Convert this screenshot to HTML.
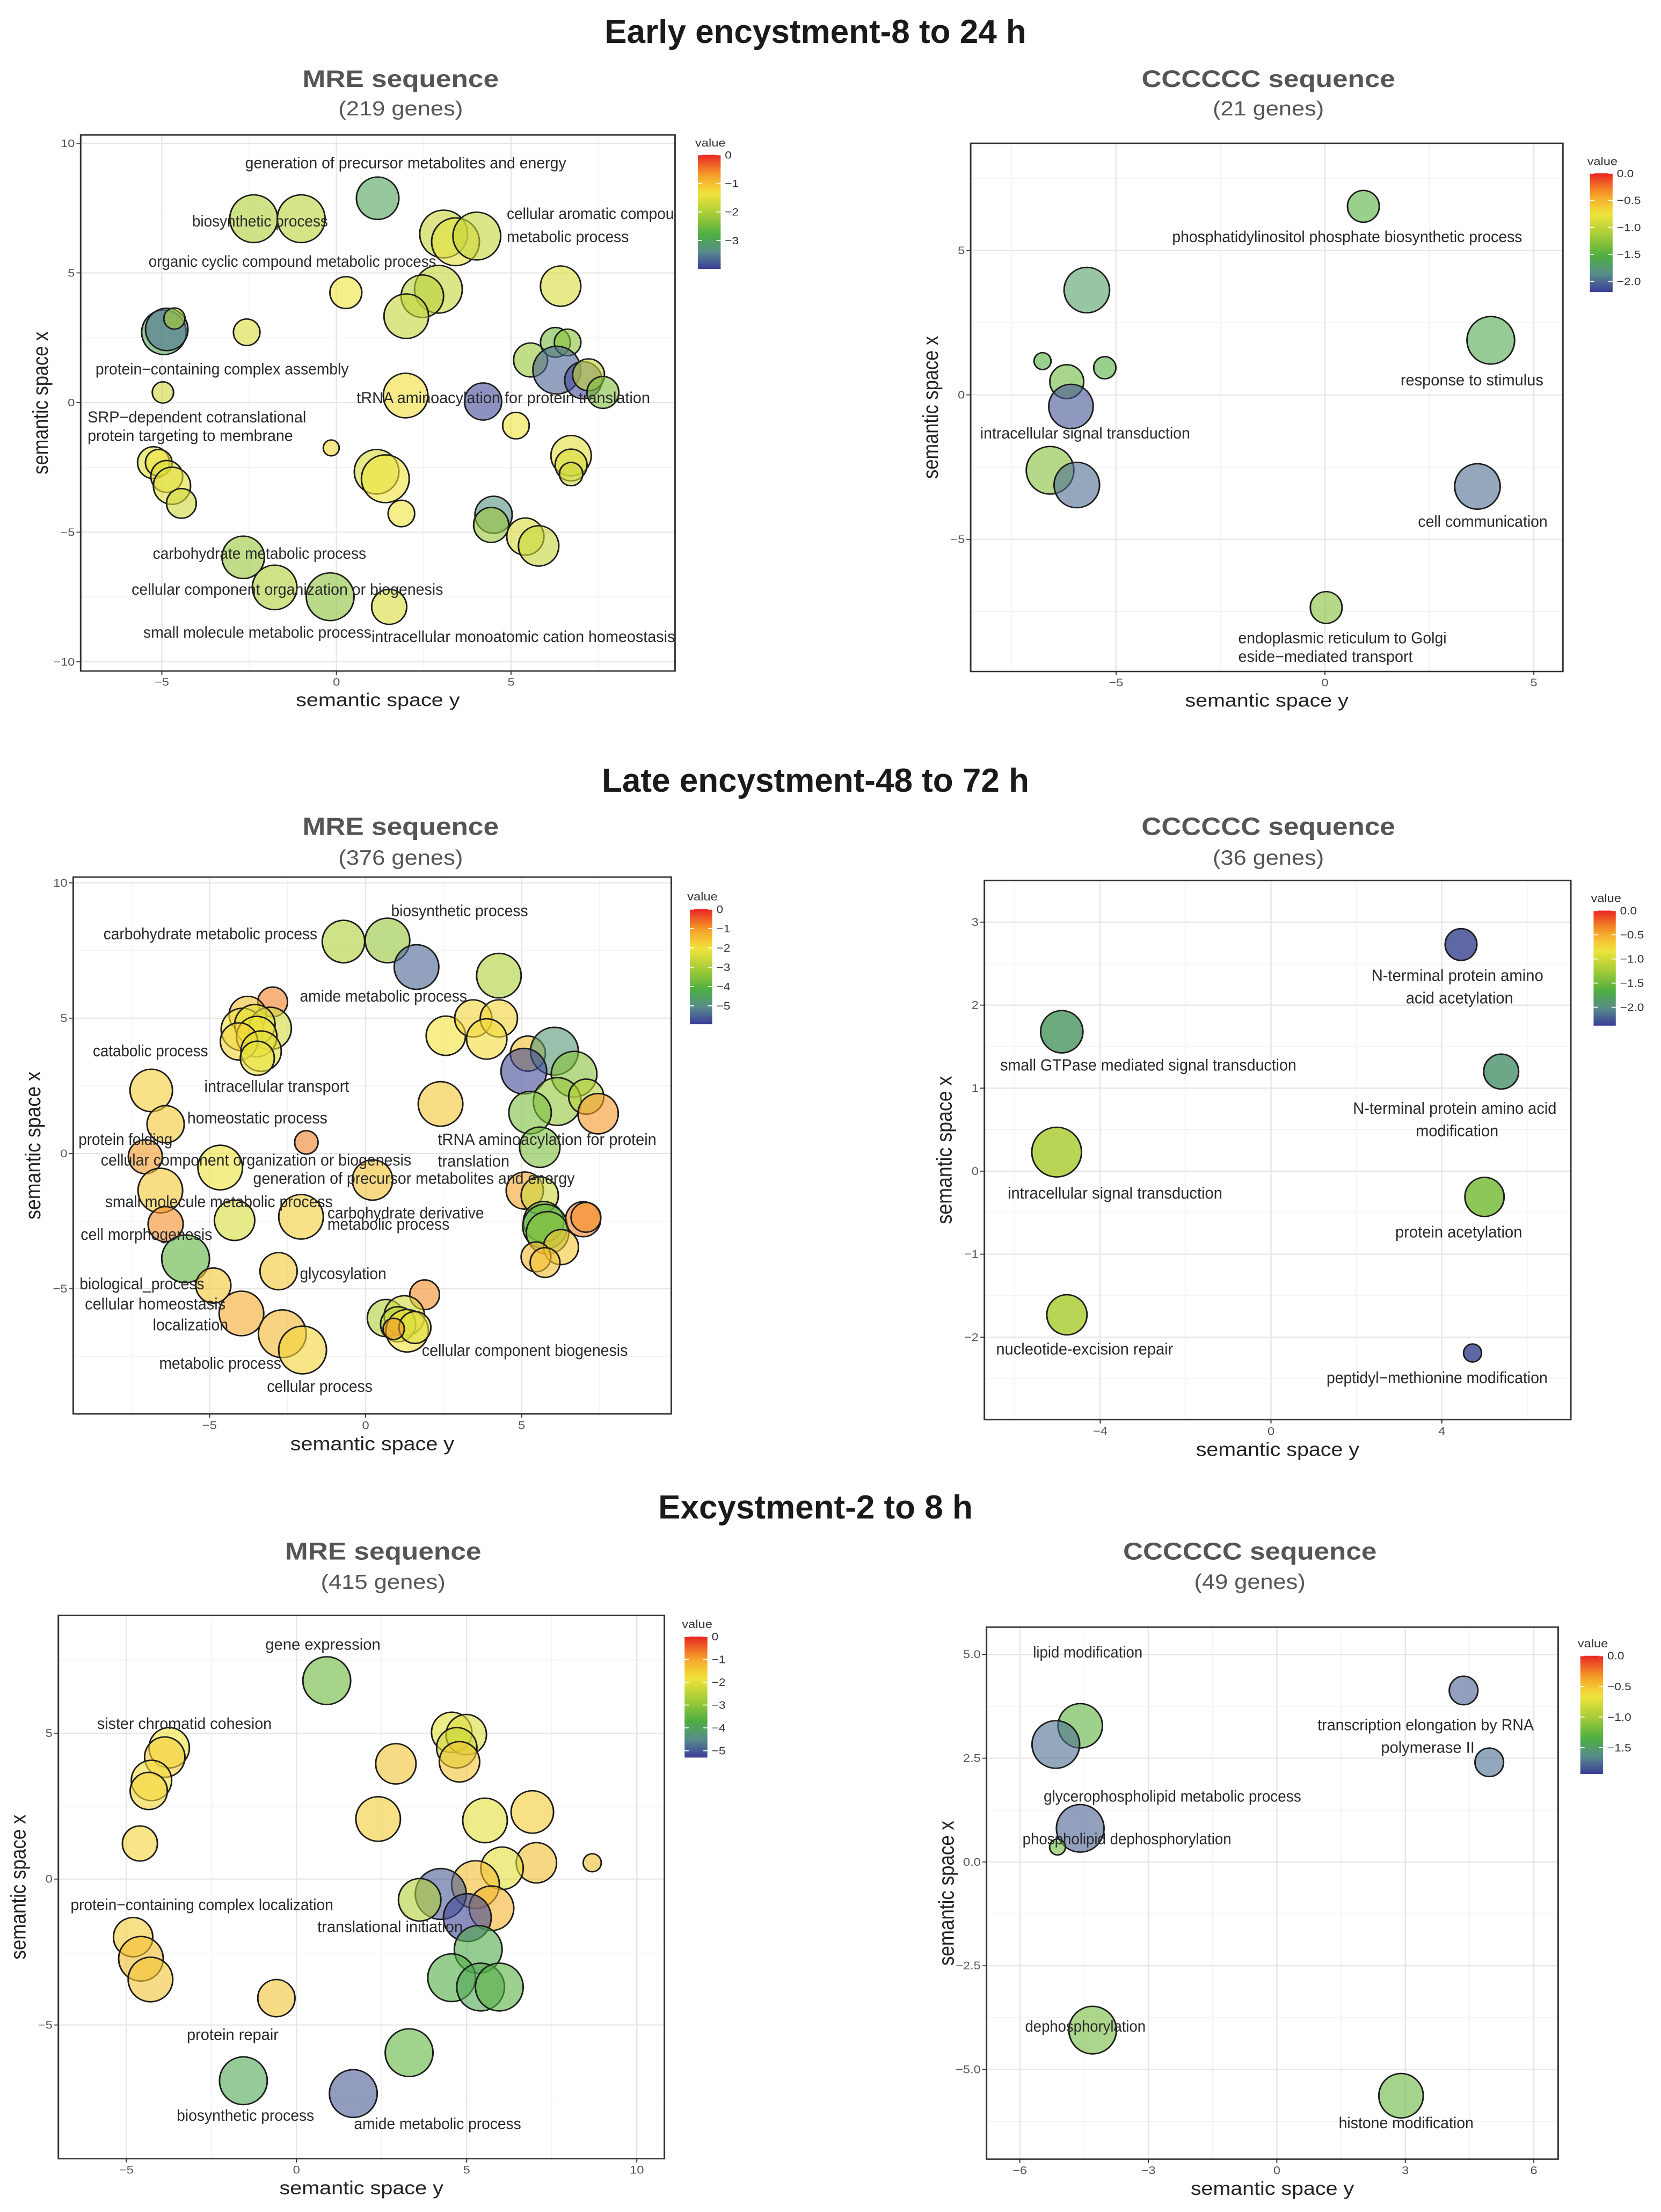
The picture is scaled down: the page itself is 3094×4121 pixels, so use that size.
<!DOCTYPE html>
<html><head><meta charset="utf-8">
<style>
html,body{margin:0;padding:0;background:#fff;}
svg{display:block;font-family:"Liberation Sans",sans-serif;}
</style></head>
<body>
<svg id="fig" xmlns="http://www.w3.org/2000/svg" width="3094" height="4121" viewBox="0 0 3094 4121">
<rect width="3094" height="4121" fill="#fff"/>
<text x="1519" y="80" font-size="62" font-weight="bold" text-anchor="middle" fill="#1a1a1a">Early encystment-8 to 24 h</text>
<text x="1519" y="1475" font-size="62" font-weight="bold" text-anchor="middle" fill="#1a1a1a">Late encystment-48 to 72 h</text>
<text x="1519" y="2829" font-size="62" font-weight="bold" text-anchor="middle" fill="#1a1a1a">Excystment-2 to 8 h</text>
</svg>
<script>
// ---------- Panel 1: Early MRE ----------
const p1X=[1.18,-2.37,-1.01,3.07,3.41,4.02,6.42,0.27,2.92,2.46,2.0,-4.94,-4.86,-4.64,-2.57,5.56,6.27,6.62,6.31,7.07,7.22,7.63,-4.97,1.98,4.2,5.14,-0.15,-5.24,-5.09,-4.86,-4.71,-4.44,1.15,1.4,1.86,6.72,6.72,6.72,4.5,4.43,5.41,5.79,-2.67,-1.77,-0.18,1.51];
const p1Y=[7.88,7.09,7.09,6.5,6.2,6.42,4.49,4.24,4.37,4.1,3.33,2.71,2.82,3.24,2.71,1.64,2.32,2.32,1.25,0.86,1.07,0.39,0.39,0.27,0.04,-0.89,-1.75,-2.32,-2.32,-2.85,-3.21,-3.89,-2.67,-2.94,-4.28,-2.05,-2.41,-2.76,-4.33,-4.72,-5.17,-5.53,-5.97,-7.13,-7.49,-7.88];
const p1Size=[4.0,4.5,4.5,4.5,4.5,4.5,3.8,3.0,4.5,4.0,4.2,4.2,4.0,2.0,2.5,3.2,2.8,2.5,4.5,3.5,3.0,3.0,2.0,4.2,3.5,2.5,1.5,3.0,2.5,3.0,3.5,2.8,4.2,4.5,2.5,3.8,3.0,2.2,3.5,3.3,3.5,3.8,4.0,4.2,4.5,3.3];
const p1Value=[-3.0,-2.0,-1.9,-1.8,-1.5,-1.8,-1.6,-1.4,-1.8,-1.9,-1.8,-3.0,-3.6,-2.1,-1.6,-2.2,-2.5,-2.3,-3.7,-3.9,-1.8,-2.4,-1.7,-1.3,-3.9,-1.4,-1.2,-1.5,-1.4,-1.6,-1.5,-1.7,-1.6,-1.4,-1.4,-1.5,-1.6,-1.7,-3.3,-2.2,-1.6,-1.8,-2.2,-2.0,-2.3,-1.6];
// ---------- Panel 2: Early CCCCCC ----------
const p2X=[0.92,-5.7,3.97,-6.76,-5.27,-6.18,-6.08,-6.58,-5.94,3.65,0.03];
const p2Y=[6.53,3.63,1.89,1.17,0.94,0.46,-0.4,-2.61,-3.12,-3.17,-7.36];
const p2Size=[3.0,4.3,4.5,1.6,2.1,3.2,4.2,4.5,4.3,4.3,3.0];
const p2Value=[-1.5,-1.7,-1.6,-1.5,-1.5,-1.4,-2.1,-1.3,-2.0,-2.0,-1.3];
// ---------- Panel 3: Late MRE ----------
const p3X=[-0.71,0.70,1.63,4.27,-2.98,-3.78,-3.95,-3.06,-3.55,-3.49,-4.06,-3.35,-3.47,2.57,3.45,4.27,3.88,5.20,6.05,5.07,6.68,6.14,5.27,7.07,7.45,2.40,5.58,-6.87,-6.41,-7.06,-1.90,-4.66,0.22,-6.58,5.10,5.58,5.70,5.75,5.83,6.97,7.06,6.26,5.46,5.75,-4.20,-2.07,-6.41,-5.77,-4.88,-2.79,-3.98,-2.67,-2.02,1.89,0.65,1.24,1.04,1.33,1.58,0.90];
const p3Y=[7.83,7.87,6.89,6.57,5.60,5.12,4.58,4.62,4.76,4.32,4.14,3.78,3.52,4.35,4.99,4.99,4.23,3.69,3.78,3.04,2.93,1.92,1.51,2.10,1.47,1.83,0.23,2.33,1.08,-0.12,0.41,-0.52,-0.98,-1.37,-1.37,-1.55,-2.52,-2.70,-2.93,-2.43,-2.36,-3.46,-3.82,-4.03,-2.47,-2.34,-2.61,-3.89,-4.88,-4.35,-5.91,-6.66,-7.26,-5.22,-6.08,-6.00,-6.31,-6.55,-6.43,-6.48];
const p3Size=[4.0,4.2,4.2,4.2,2.8,3.5,4.0,4.0,3.8,3.8,3.5,3.8,3.2,3.7,3.5,3.5,3.8,3.3,4.5,4.3,4.3,4.5,4.0,3.3,3.8,4.2,3.8,4.0,3.5,3.2,2.2,4.2,3.8,4.2,3.5,3.5,3.8,4.2,4.0,3.3,2.8,3.3,2.8,2.8,3.8,4.2,3.3,4.5,3.3,3.5,4.2,4.5,4.5,2.8,3.5,3.8,3.3,4.0,3.0,2.0];
const p3Value=[-3.0,-3.3,-5.5,-3.0,-0.8,-1.5,-2.0,-2.5,-2.2,-2.0,-1.8,-2.3,-2.1,-2.0,-1.8,-1.8,-1.9,-1.5,-4.8,-5.8,-3.5,-3.3,-3.6,-2.8,-1.0,-1.6,-3.6,-1.7,-1.6,-1.0,-0.8,-2.1,-1.5,-1.6,-1.1,-2.6,-3.8,-4.0,-3.5,-0.8,-0.9,-1.6,-1.4,-1.5,-2.4,-1.7,-0.9,-4.0,-1.6,-1.6,-1.2,-1.4,-1.8,-0.9,-3.0,-2.5,-2.8,-2.0,-2.3,-1.0];
// ---------- Panel 4: Late CCCCCC ----------
const p4X=[4.45,-4.9,5.39,-5.02,5.0,-4.78,4.72];
const p4Y=[2.73,1.68,1.2,0.23,-0.31,-1.73,-2.19];
const p4Size=[3.0,4.0,3.3,4.7,3.7,3.8,1.7];
const p4Value=[-2.3,-1.85,-1.9,-1.2,-1.45,-1.2,-2.3];
// ---------- Panel 5: Excystment MRE ----------
const p5X=[0.89,-3.74,-3.87,-4.26,-4.34,-4.60,4.56,4.99,4.71,4.79,2.92,2.40,5.54,6.93,7.05,8.69,6.04,5.26,5.73,4.24,3.62,5.02,5.34,4.56,5.41,5.96,-4.80,-4.57,-4.29,-0.59,3.31,-1.56,1.67];
const p5Y=[6.80,4.50,4.18,3.38,3.02,1.22,5.03,4.95,4.50,4.02,3.95,2.06,2.01,2.30,0.56,0.56,0.37,-0.19,-1.00,-0.51,-0.71,-1.32,-2.41,-3.38,-3.70,-3.70,-1.99,-2.73,-3.44,-4.08,-5.95,-6.91,-7.35];
const p5Size=[4.5,3.8,3.8,3.8,3.5,3.3,3.8,3.8,3.8,3.8,3.8,4.2,4.2,4.0,3.8,1.7,4.0,4.5,4.2,4.8,4.0,4.5,4.5,4.5,4.5,4.5,3.7,4.2,4.2,3.5,4.5,4.5,4.5];
const p5Value=[-3.4,-1.8,-1.5,-1.7,-1.6,-1.6,-2.0,-2.1,-2.3,-1.4,-1.4,-1.5,-2.0,-1.5,-1.3,-1.3,-2.0,-1.3,-1.2,-5.0,-2.6,-5.2,-3.8,-3.7,-3.9,-3.6,-1.5,-1.3,-1.4,-1.4,-3.5,-3.9,-5.0];
// ---------- Panel 6: Excystment CCCCCC ----------
const p6X=[4.36,-4.59,-5.16,4.96,-4.59,-5.12,-4.30,2.90];
const p6Y=[4.13,3.28,2.83,2.40,0.81,0.36,-4.05,-5.63];
const p6Size=[2.7,4.2,4.5,2.7,4.5,1.5,4.5,4.2];
const p6Value=[-1.8,-1.3,-1.75,-1.75,-1.8,-1.2,-1.2,-1.25];

// label annotations: [text, left px, right px, centre-y px] (layout, panel-local coordinates)
const p1Labels=[["generation of precursor metabolites and energy",462,1067,352],["biosynthetic process",362,618,478],["cellular aromatic compou",955,1270,462],["metabolic process",955,1185,512],["organic cyclic compound metabolic process",280,822,565],["protein−containing complex assembly",180,657,798],["tRNA aminoacylation for protein translation",672,1225,860],["SRP−dependent cotranslational",165,577,902],["protein targeting to membrane",165,552,942],["carbohydrate metabolic process",288,690,1197],["cellular component organization or biogenesis",248,835,1275],["small molecule metabolic process",270,700,1368],["intracellular monoatomic cation homeostasis",700,1272,1377]];
const p2Labels=[["phosphatidylinositol phosphate biosynthetic process",643,1305,512],["response to stimulus",1075,1345,822],["intracellular signal transduction",280,677,937],["cell communication",1108,1353,1128],["endoplasmic reticulum to Golgi",768,1162,1380],["eside−mediated transport",768,1098,1420]];
const p3Labels=[["biosynthetic process",737,995,388],["carbohydrate metabolic process",195,598,436],["amide metabolic process",565,880,566],["catabolic process",175,392,680],["intracellular transport",385,658,754],["homeostatic process",353,617,820],["protein folding",148,325,865],["tRNA aminoacylation for protein",825,1237,865],["cellular component organization or biogenesis",190,775,908],["translation",825,960,910],["generation of precursor metabolites and energy",477,1083,946],["small molecule metabolic process",198,627,995],["carbohydrate derivative",617,912,1018],["metabolic process",617,847,1042],["cell morphogenesis",152,400,1063],["glycosylation",565,728,1145],["biological_process",150,385,1166],["cellular homeostasis",160,425,1208],["localization",288,430,1252],["cellular component biogenesis",795,1183,1305],["metabolic process",300,530,1332],["cellular process",503,702,1380]];
const p4Labels=[["N-terminal protein amino",1020,1345,523],["acid acetylation",1085,1288,570],["small GTPase mediated signal transduction",318,878,710],["N-terminal protein amino acid",985,1370,800],["modification",1104,1260,847],["intracellular signal transduction",332,738,977],["protein acetylation",1065,1305,1058],["nucleotide-excision repair",310,645,1302],["peptidyl−methionine modification",935,1353,1362]];
const p5Labels=[["gene expression",500,717,358],["sister chromatid cohesion",183,512,527],["protein−containing complex localization",133,628,913],["translational initiation",598,872,960],["protein repair",352,525,1190],["biosynthetic process",333,592,1362],["amide metabolic process",667,982,1380]];
const p6Labels=[["lipid modification",380,587,375],["transcription elongation by RNA",918,1327,530],["polymerase II",1038,1215,578],["glycerophospholipid metabolic process",400,887,682],["phospholipid dephosphorylation",360,755,773],["dephosphorylation",365,593,1172],["histone modification",958,1213,1378]];

const NS="http://www.w3.org/2000/svg";
const svg=document.getElementById('fig');
function mk(tag,attrs,parent){const e=document.createElementNS(NS,tag);for(const k in attrs)e.setAttribute(k,attrs[k]);parent.appendChild(e);return e;}
const stops=[[0,[232,38,36]],[0.18,[245,160,40]],[0.34,[242,228,60]],[0.52,[166,204,55]],[0.7,[78,174,66]],[0.85,[88,140,140]],[1,[60,60,152]]];
function colorAt(t){t=Math.max(0,Math.min(1,t));for(let i=1;i<stops.length;i++){if(t<=stops[i][0]){const a=stops[i-1],b=stops[i];const f=(t-a[0])/(b[0]-a[0]);const c=a[1].map((v,j)=>Math.round(v+(b[1][j]-v)*f));return `rgb(${c[0]},${c[1]},${c[2]})`;}}return 'rgb(60,60,152)';}
function fmt(v,dec){let s=dec?v.toFixed(1):String(v);return s.replace('-','−');}

const panels=[
 {id:'p1',ox:0,oy:0,sx:0.9885,sy:0.861,title:'MRE sequence',genes:'(219 genes)',tc:755,ty:170,box:[152,292,1272,1452],xa:[-5,305,5,963],ya:[10,310,-10,1432],xt:[-5,0,5],yt:[-10,-5,0,5,10],xm:[-7.5,-2.5,2.5,7.5],ym:[-7.5,-2.5,2.5,7.5],leg:[1315,335,1358,582],lt:[0,-1,-2,-3],vmin:-4.0,dec:false,X:p1X,Y:p1Y,S:p1Size,V:p1Value,L:p1Labels,op:0.6},
 {id:'p2',ox:1550,oy:0,sx:0.985,sy:0.861,title:'CCCCCC sequence',genes:'(21 genes)',tc:825,ty:170,box:[262,310,1382,1453],xa:[-5,537,5,1327],ya:[5,542,-5,1167],xt:[-5,0,5],yt:[-5,0,5],xm:[-7.5,-2.5,2.5,7.5],ym:[-7.5,-2.5,2.5,7.5],leg:[1433,375,1476,632],lt:[0,-0.5,-1,-1.5,-2],vmin:-2.2,dec:true,X:p2X,Y:p2Y,S:p2Size,V:p2Value,L:p2Labels,op:0.6},
 {id:'p3',ox:0,oy:1350,sx:0.9885,sy:0.893,title:'MRE sequence',genes:'(376 genes)',tc:755,ty:212,box:[138,318,1265,1438],xa:[-5,395,5,983],ya:[10,330,-5,1177],xt:[-5,0,5],yt:[-5,0,5,10],xm:[-7.5,-2.5,2.5,7.5],ym:[-7.5,-2.5,2.5,7.5],leg:[1300,385,1342,625],lt:[0,-1,-2,-3,-4,-5],vmin:-5.95,dec:false,X:p3X,Y:p3Y,S:p3Size,V:p3Value,L:p3Labels,op:0.6},
 {id:'p4',ox:1550,oy:1350,sx:0.985,sy:0.893,title:'CCCCCC sequence',genes:'(36 genes)',tc:825,ty:212,box:[288,325,1397,1450],xa:[-4,507,4,1153],ya:[3,412,-2,1278],xt:[-4,0,4],yt:[-2,-1,0,1,2,3],xm:[-6,-2,2,6],ym:[-2.5,-1.5,-0.5,0.5,1.5,2.5],leg:[1440,388,1482,628],lt:[0,-0.5,-1,-1.5,-2],vmin:-2.38,dec:true,X:p4X,Y:p4Y,S:p4Size,V:p4Value,L:p4Labels,op:0.85},
 {id:'p5',ox:0,oy:2750,sx:0.9885,sy:0.874,title:'MRE sequence',genes:'(415 genes)',tc:722,ty:160,box:[110,297,1252,1455],xa:[-5,238,10,1200],ya:[5,548,-5,1170],xt:[-5,0,5,10],yt:[-5,0,5],xm:[-7.5,-2.5,2.5,7.5],ym:[-7.5,-2.5,2.5,7.5],leg:[1290,342,1333,600],lt:[0,-1,-2,-3,-4,-5],vmin:-5.3,dec:false,X:p5X,Y:p5Y,S:p5Size,V:p5Value,L:p5Labels,op:0.6},
 {id:'p6',ox:1550,oy:2750,sx:0.985,sy:0.874,title:'CCCCCC sequence',genes:'(49 genes)',tc:790,ty:160,box:[292,322,1373,1456],xa:[-6,355,6,1327],ya:[5,380,-5,1265],xt:[-6,-3,0,3,6],yt:[-5,-2.5,0,2.5,5],ytdec:true,xm:[-4.5,-1.5,1.5,4.5],ym:[-6.25,-3.75,-1.25,1.25,3.75],leg:[1415,383,1458,635],lt:[0,-0.5,-1,-1.5],vmin:-1.93,dec:true,X:p6X,Y:p6Y,S:p6Size,V:p6Value,L:p6Labels,op:0.6}
];

panels.forEach(p=>{
 const g=mk('g',{transform:`translate(${p.ox},${p.oy}) scale(${p.sx},${p.sy})`},svg);
 
 
 const [x0,y0,x1,y1]=p.box;
 const xs=v=>p.xa[1]+(v-p.xa[0])*(p.xa[3]-p.xa[1])/(p.xa[2]-p.xa[0]);
 const ys=v=>p.ya[1]+(v-p.ya[0])*(p.ya[3]-p.ya[1])/(p.ya[2]-p.ya[0]);
 const t1=mk('text',{x:p.tc,y:p.ty+18,'font-size':52,'font-weight':'bold','text-anchor':'middle',fill:'#555'},g);t1.textContent=p.title;
 
 
 const t2=mk('text',{x:p.tc,y:p.ty+80,'font-size':44,'text-anchor':'middle',fill:'#555'},g);t2.textContent=p.genes;
 
 
 const defs=mk('clipPath',{id:'clip-'+p.id},g);mk('rect',{x:x0,y:y0,width:x1-x0,height:y1-y0},defs);
 const grid=mk('g',{'clip-path':`url(#clip-${p.id})`},g);
 
 
 p.xm.forEach(v=>mk('line',{x1:xs(v),x2:xs(v),y1:y0,y2:y1,stroke:'#f2f2f2','stroke-width':1.5},grid));
 p.ym.forEach(v=>mk('line',{x1:x0,x2:x1,y1:ys(v),y2:ys(v),stroke:'#f2f2f2','stroke-width':1.5},grid));
 p.xt.forEach(v=>mk('line',{x1:xs(v),x2:xs(v),y1:y0,y2:y1,stroke:'#e6e6e6','stroke-width':2.5},grid));
 p.yt.forEach(v=>mk('line',{x1:x0,x2:x1,y1:ys(v),y2:ys(v),stroke:'#e6e6e6','stroke-width':2.5},grid));
 const marks=mk('g',{'clip-path':`url(#clip-${p.id})`},g);
 const asp=p.sx/p.sy;
 p.X.forEach((xv,i)=>{
  const c=mk('ellipse',{cx:xs(xv),cy:ys(p.Y[i]),rx:p.S[i]*10,ry:p.S[i]*10*asp,fill:colorAt(p.V[i]/p.vmin),'fill-opacity':p.op,stroke:'#1c1c1c','stroke-width':3},marks);
  
  
 });
 p.L.forEach(l=>{
  const t=mk('text',{x:l[1],y:l[3]+12,'font-size':34,fill:'#2a2a2a',textLength:l[2]-l[1],lengthAdjust:'spacingAndGlyphs'},g);
  t.textContent=l[0];
  
  
 });
 const fr=mk('rect',{x:x0,y:y0,width:x1-x0,height:y1-y0,fill:'none',stroke:'#333','stroke-width':3},g);
 
 
 p.xt.forEach(v=>{mk('line',{x1:xs(v),x2:xs(v),y1:y1,y2:y1+8,stroke:'#333','stroke-width':2},g);
  const t=mk('text',{x:xs(v),y:y1+32,'font-size':24,'text-anchor':'middle',fill:'#555'},g);t.textContent=fmt(v,false);
  
  });
 p.yt.forEach(v=>{mk('line',{x1:x0-8,x2:x0,y1:ys(v),y2:ys(v),stroke:'#333','stroke-width':2},g);
  const t=mk('text',{x:x0-11,y:ys(v)+8,'font-size':24,'text-anchor':'end',fill:'#555'},g);t.textContent=fmt(v,!!p.ytdec);
  
  });
 const xt=mk('text',{x:(x0+x1)/2,y:y1+76,'font-size':40,'text-anchor':'middle',fill:'#222'},g);xt.textContent='semantic space y';
 
 
 const yc=(y0+y1)/2, yx=x0-62;
 const yt=mk('text',{x:yx,y:yc,'font-size':40,'text-anchor':'middle',fill:'#222',transform:`rotate(-90 ${yx} ${yc})`},g);yt.textContent='semantic space x';
 
 
 const [lx0,ly0,lx1,ly1]=p.leg;
 const gid='grad-'+p.id;
 const lg=mk('linearGradient',{id:gid,x1:0,y1:0,x2:0,y2:1},g);
 for(let k=0;k<=20;k++){mk('stop',{offset:k/20,'stop-color':colorAt(k/20)},lg);}
 const lr=mk('rect',{x:lx0,y:ly0,width:lx1-lx0,height:ly1-ly0,fill:`url(#${gid})`},g);
 
 
 const lt=mk('text',{x:lx0-5,y:ly0-18,'font-size':24,fill:'#333'},g);lt.textContent='value';
 
 
 p.lt.forEach(v=>{const yy=ly0+(v/p.vmin)*(ly1-ly0);
  mk('line',{x1:lx0,x2:lx0+8,y1:yy,y2:yy,stroke:'#fff','stroke-width':2},g);
  mk('line',{x1:lx1-8,x2:lx1,y1:yy,y2:yy,stroke:'#fff','stroke-width':2},g);
  const t=mk('text',{x:lx1+8,y:yy+8,'font-size':23,fill:'#333'},g);t.textContent=fmt(v,p.dec);
  
  });
});
</script>
</body></html>
